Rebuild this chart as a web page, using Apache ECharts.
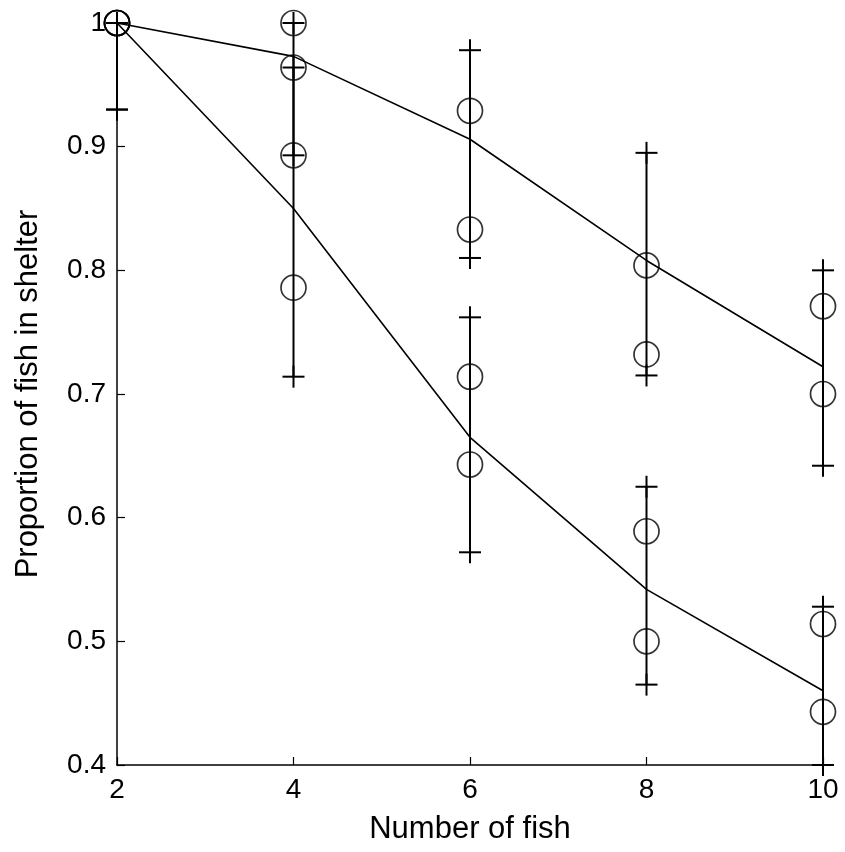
<!DOCTYPE html>
<html>
<head>
<meta charset="utf-8">
<script src="https://cdn.jsdelivr.net/npm/echarts@6/dist/echarts.min.js"></script>
<style>
  html, body { margin: 0; padding: 0; background: #fff; }
  #chart { width: 845px; height: 852px; }
</style>
</head>
<body>
<div id="chart"></div>
<script>
// x values
const fishCounts = [2, 4, 6, 8, 10]

// fitted curves
const upperFit = [1.0, 0.973, 0.906, 0.808, 0.722]
const lowerFit = [1.0, 0.850, 0.665, 0.542, 0.460]

// observed proportions (two per group and x)
const upperObsA = [1.0, 1.0, 0.929, 0.804, 0.771]
const upperObsB = [1.0, 0.964, 0.833, 0.732, 0.700]
const lowerObsA = [1.0, 0.893, 0.714, 0.589, 0.514]
const lowerObsB = [1.0, 0.786, 0.643, 0.500, 0.443]

// error bar ends
const upperLow = [0.930, 0.893, 0.810, 0.715, 0.642]
const upperHigh = [1.0, 1.0, 0.978, 0.895, 0.800]
const lowerLow = [0.930, 0.714, 0.572, 0.465, 0.400]
const lowerHigh = [1.0, 0.964, 0.762, 0.625, 0.528]

const yTicks = [0.4, 0.5, 0.6, 0.7, 0.8, 0.9, 1]

const font = 'Liberation Sans, Arial, sans-serif'

function pairs(ys) {
  return fishCounts.map((x, i) => [x, ys[i]])
}

function bars(lo, hi) {
  return fishCounts.map((x, i) => [x, lo[i], hi[i]])
}

// vertical bar with a "+" at each end
function renderBar(params, api) {
  const x = api.value(0)
  const p1 = api.coord([x, api.value(1)])
  const p2 = api.coord([x, api.value(2)])
  const h = 11
  const style = { stroke: '#000', lineWidth: 2 }
  const children = [
    { type: 'line', shape: { x1: p1[0], y1: p1[1], x2: p2[0], y2: p2[1] }, style: style }
  ]
  ;[p1, p2].forEach(p => {
    children.push({ type: 'line', shape: { x1: p[0] - h, y1: p[1], x2: p[0] + h, y2: p[1] }, style: style })
    children.push({ type: 'line', shape: { x1: p[0], y1: p[1] - h, x2: p[0], y2: p[1] + h }, style: style })
  })
  return { type: 'group', children: children }
}

const circleStyle = {
  color: 'rgba(0,0,0,0)',
  borderColor: '#000',
  borderWidth: 1.7
}

const chart = echarts.init(document.getElementById('chart'))
chart.setOption({
  backgroundColor: '#fff',
  animation: false,
  grid: { left: 117, right: 22, top: 23, bottom: 87 },
  xAxis: {
    type: 'value',
    min: 2,
    max: 10,
    interval: 2,
    name: 'Number of fish',
    nameLocation: 'middle',
    nameGap: 49,
    nameTextStyle: { fontFamily: font, fontSize: 31, color: '#000' },
    splitLine: { show: false },
    axisLine: { lineStyle: { color: '#000', width: 1.5 } },
    axisTick: { inside: true, length: 8, lineStyle: { color: '#000', width: 1.2 } },
    axisLabel: { fontFamily: font, fontSize: 28, color: '#000', margin: 11 }
  },
  yAxis: {
    type: 'value',
    min: 0.4,
    max: 1,
    interval: 0.1,
    name: 'Proportion of fish in shelter',
    nameLocation: 'middle',
    nameGap: 73,
    nameTextStyle: { fontFamily: font, fontSize: 31, color: '#000' },
    splitLine: { show: false },
    axisLine: { lineStyle: { color: '#000', width: 1.5 } },
    axisTick: { inside: true, length: 8, lineStyle: { color: '#000', width: 1.2 } },
    axisLabel: {
      fontFamily: font, fontSize: 28, color: '#000', margin: 11,
      formatter: v => {
        const t = yTicks.find(k => Math.abs(k - v) < 1e-6)
        return t === undefined ? '' : String(t)
      }
    }
  },
  series: [
    { type: 'custom', renderItem: renderBar, data: bars(upperLow, upperHigh), clip: false, z: 2 },
    { type: 'custom', renderItem: renderBar, data: bars(lowerLow, lowerHigh), clip: false, z: 2 },
    { type: 'line', data: pairs(upperFit), symbol: 'none', lineStyle: { color: '#000', width: 1.6 }, z: 3 },
    { type: 'line', data: pairs(lowerFit), symbol: 'none', lineStyle: { color: '#000', width: 1.6 }, z: 3 },
    { type: 'scatter', data: pairs(upperObsA), symbolSize: 25, itemStyle: circleStyle, z: 4 },
    { type: 'scatter', data: pairs(upperObsB), symbolSize: 25, itemStyle: circleStyle, z: 4 },
    { type: 'scatter', data: pairs(lowerObsA), symbolSize: 25, itemStyle: circleStyle, z: 4 },
    { type: 'scatter', data: pairs(lowerObsB), symbolSize: 25, itemStyle: circleStyle, z: 4 }
  ]
})
</script>
</body>
</html>
